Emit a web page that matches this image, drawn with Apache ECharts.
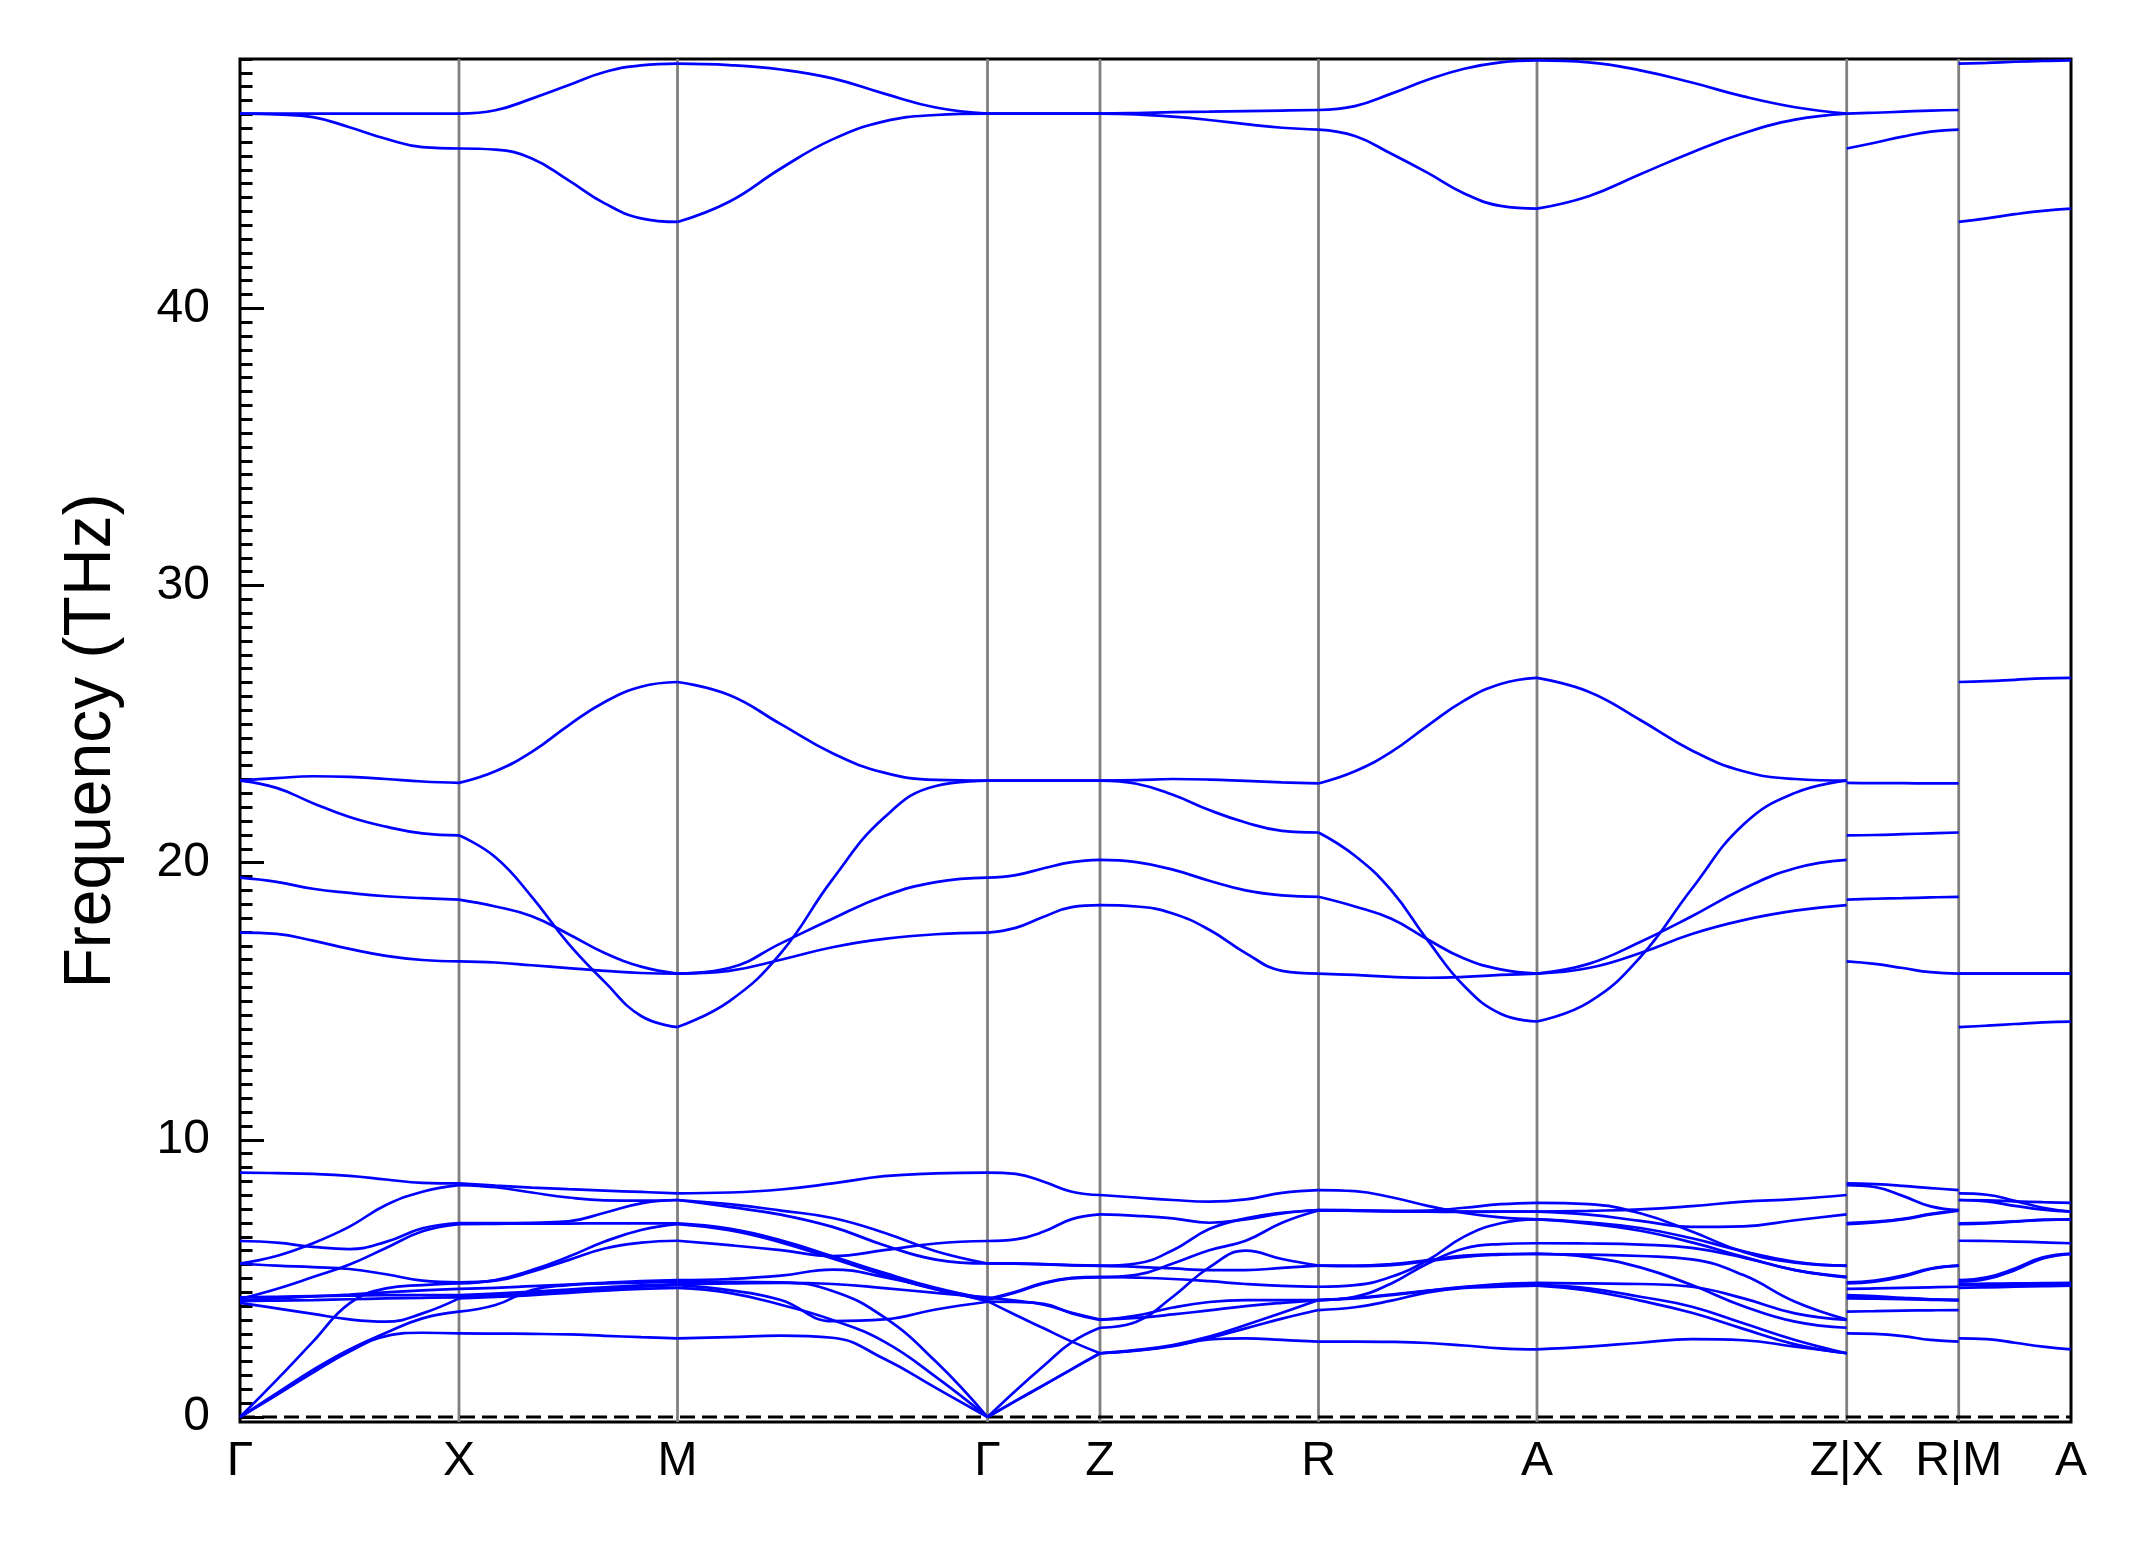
<!DOCTYPE html>
<html><head><meta charset="utf-8">
<script src="https://cdn.jsdelivr.net/npm/echarts@6/dist/echarts.min.js"></script>
<style>html,body{margin:0;padding:0;background:#fff}#c{width:2145px;height:1549px}</style>
</head><body><div id="c"></div>
<script>
// High-symmetry path
const kLabels = ['Γ','X','M','Γ','Z','R','A','Z|X','R|M','A'];
const kDist = [0, 219, 437.5, 747.5, 860, 1078.5, 1297, 1606.7, 1718.7, 1831];
const longFrac = [0, 1/6, 2/6, 3/6, 4/6, 5/6, 1];
const shortFrac = [0, 0.25, 0.5, 0.75, 1];
const yTicks = [0, 10, 20, 30, 40];

// Frequencies (THz) sampled along each path segment, one row per band
const bandsGX = [
 [0, 0.79, 1.60, 2.36, 2.92, 3.04, 3.02],
 [0, 0.85, 1.70, 2.44, 3.04, 3.56, 3.80],
 [0, 1.33, 2.72, 4.10, 4.64, 4.76, 4.82],
 [4.12, 3.92, 3.72, 3.52, 3.44, 3.74, 4.28],
 [4.18, 4.20, 4.22, 4.25, 4.28, 4.30, 4.32],
 [4.22, 4.28, 4.35, 4.42, 4.50, 4.57, 4.62],
 [4.26, 4.62, 5.05, 5.50, 6.10, 6.70, 6.96],
 [4.32, 4.34, 4.36, 4.38, 4.40, 4.40, 4.40],
 [5.54, 5.46, 5.41, 5.34, 5.15, 4.92, 4.86],
 [6.35, 6.29, 6.14, 6.06, 6.32, 6.81, 7.00],
 [5.54, 5.81, 6.27, 6.87, 7.65, 8.13, 8.37],
 [8.82, 8.80, 8.77, 8.70, 8.57, 8.45, 8.43],
 [22.96, 23.05, 23.12, 23.10, 23.02, 22.93, 22.88],
 [22.96, 22.70, 22.15, 21.65, 21.30, 21.06, 20.99],
 [19.46, 19.31, 19.06, 18.91, 18.79, 18.72, 18.67],
 [17.48, 17.43, 17.19, 16.89, 16.64, 16.49, 16.44],
 [47.03, 47.03, 47.03, 47.03, 47.03, 47.03, 47.03],
 [47.03, 47.00, 46.90, 46.54, 46.12, 45.82, 45.77]
];
const bandsXM = [
 [3.02, 3.01, 3.00, 2.98, 2.93, 2.88, 2.84],
 [3.80, 4.04, 4.58, 4.76, 4.82, 4.85, 4.88],
 [4.82, 4.94, 5.30, 5.78, 6.33, 6.75, 6.96],
 [4.28, 4.33, 4.40, 4.48, 4.56, 4.62, 4.66],
 [4.32, 4.38, 4.46, 4.54, 4.62, 4.70, 4.76],
 [4.62, 4.66, 4.72, 4.78, 4.84, 4.90, 4.94],
 [6.96, 6.97, 6.98, 6.98, 6.99, 6.99, 6.99],
 [4.40, 4.45, 4.52, 4.60, 4.68, 4.75, 4.80],
 [4.86, 4.92, 5.24, 5.66, 6.08, 6.29, 6.36],
 [7.00, 7.00, 7.01, 7.06, 7.37, 7.71, 7.83],
 [8.37, 8.29, 8.10, 7.92, 7.82, 7.81, 7.83],
 [8.43, 8.35, 8.28, 8.22, 8.17, 8.12, 8.07],
 [22.88, 23.30, 24.00, 24.95, 25.80, 26.35, 26.52],
 [20.99, 20.20, 18.77, 17.09, 15.70, 14.47, 14.07],
 [18.67, 18.42, 18.07, 17.43, 16.74, 16.25, 16.00],
 [16.44, 16.40, 16.30, 16.20, 16.10, 16.02, 16.00],
 [47.03, 47.15, 47.57, 48.05, 48.53, 48.77, 48.83],
 [45.77, 45.73, 45.41, 44.63, 43.79, 43.25, 43.12]
];
const bandsMG = [
 [2.84, 2.88, 2.94, 2.86, 2.10, 1.05, 0],
 [4.66, 4.48, 4.05, 3.50, 2.72, 1.45, 0],
 [4.76, 4.58, 4.22, 3.46, 3.52, 3.88, 4.16],
 [4.88, 4.88, 4.86, 4.55, 3.60, 2.00, 0],
 [4.94, 4.98, 5.10, 5.32, 5.05, 4.62, 4.18],
 [4.80, 4.82, 4.84, 4.80, 4.65, 4.48, 4.32],
 [6.36, 6.20, 6.02, 5.81, 6.02, 6.26, 6.35],
 [6.96, 6.74, 6.30, 5.72, 5.12, 4.60, 4.22],
 [6.99, 6.80, 6.38, 5.80, 5.20, 4.66, 4.26],
 [7.83, 7.58, 7.30, 6.86, 6.20, 5.68, 5.54],
 [7.83, 7.68, 7.45, 7.18, 6.65, 5.98, 5.54],
 [8.07, 8.10, 8.21, 8.43, 8.69, 8.79, 8.82],
 [26.52, 26.05, 25.00, 23.95, 23.25, 22.99, 22.96],
 [14.07, 15.00, 16.74, 19.40, 21.63, 22.77, 22.96],
 [16.00, 16.20, 17.09, 17.98, 18.80, 19.30, 19.46],
 [16.00, 16.10, 16.50, 16.95, 17.25, 17.42, 17.48],
 [48.83, 48.78, 48.62, 48.30, 47.75, 47.25, 47.03],
 [43.12, 43.85, 45.05, 46.10, 46.75, 46.98, 47.03]
];
const bandsGZ = [
 [0, 0.58, 1.15, 1.73, 2.30],
 [0, 0.58, 1.15, 1.73, 2.30],
 [4.16, 4.15, 4.08, 3.74, 3.50],
 [0, 0.95, 1.85, 2.70, 3.22],
 [4.18, 3.68, 3.20, 2.72, 2.30],
 [4.32, 4.20, 4.05, 3.76, 3.52],
 [6.35, 6.41, 6.69, 7.14, 7.31],
 [4.22, 4.49, 4.82, 5.00, 5.04],
 [4.26, 4.52, 4.84, 5.02, 5.06],
 [5.54, 5.54, 5.52, 5.48, 5.46],
 [5.54, 5.53, 5.51, 5.47, 5.45],
 [8.82, 8.77, 8.49, 8.13, 8.01],
 [22.96, 22.96, 22.96, 22.96, 22.96],
 [22.96, 22.96, 22.96, 22.96, 22.96],
 [19.46, 19.55, 19.80, 20.02, 20.10],
 [17.48, 17.65, 18.05, 18.40, 18.47],
 [47.03, 47.03, 47.03, 47.03, 47.03],
 [47.03, 47.03, 47.03, 47.03, 47.03]
];
const bandsZR = [
 [2.30, 2.39, 2.56, 2.80, 2.84, 2.78, 2.72],
 [2.30, 2.40, 2.57, 2.85, 3.20, 3.55, 3.86],
 [3.50, 3.66, 3.95, 4.15, 4.22, 4.22, 4.22],
 [3.22, 3.44, 4.34, 5.40, 6.00, 5.70, 5.46],
 [2.30, 2.42, 2.60, 2.90, 3.32, 3.76, 4.22],
 [3.52, 3.58, 3.70, 3.85, 4.00, 4.12, 4.22],
 [7.31, 7.26, 7.17, 7.01, 7.13, 7.35, 7.47],
 [5.04, 5.13, 5.54, 6.02, 6.36, 7.01, 7.45],
 [5.06, 5.03, 4.98, 4.90, 4.80, 4.73, 4.70],
 [5.46, 5.54, 6.02, 6.78, 7.17, 7.37, 7.47],
 [5.45, 5.42, 5.36, 5.30, 5.30, 5.38, 5.46],
 [8.01, 7.92, 7.83, 7.77, 7.85, 8.09, 8.19],
 [22.96, 22.98, 23.02, 23.00, 22.95, 22.90, 22.86],
 [22.96, 22.85, 22.45, 21.90, 21.45, 21.15, 21.09],
 [20.10, 20.02, 19.75, 19.35, 19.00, 18.82, 18.77],
 [18.47, 18.42, 18.17, 17.58, 16.74, 16.10, 16.00],
 [47.03, 47.05, 47.08, 47.10, 47.12, 47.14, 47.16],
 [47.03, 47.00, 46.92, 46.80, 46.65, 46.52, 46.45]
];
const bandsRA = [
 [8.19, 8.15, 7.93, 7.62, 7.36, 7.20, 7.13],
 [7.47, 7.46, 7.44, 7.45, 7.55, 7.68, 7.73],
 [7.47, 7.45, 7.43, 7.42, 7.41, 7.41, 7.41],
 [7.45, 7.44, 7.42, 7.41, 7.40, 7.41, 7.41],
 [4.70, 4.76, 5.06, 5.66, 6.51, 6.99, 7.13],
 [5.46, 5.46, 5.52, 5.66, 5.82, 5.88, 5.88],
 [5.46, 5.44, 5.48, 5.62, 5.78, 5.86, 5.90],
 [4.22, 4.34, 4.82, 5.54, 6.08, 6.24, 6.27],
 [4.22, 4.30, 4.42, 4.56, 4.68, 4.76, 4.78],
 [4.22, 4.28, 4.40, 4.55, 4.70, 4.80, 4.84],
 [3.86, 3.96, 4.20, 4.50, 4.66, 4.70, 4.74],
 [2.72, 2.72, 2.71, 2.67, 2.58, 2.48, 2.44],
 [22.86, 23.30, 24.00, 24.95, 25.85, 26.45, 26.67],
 [21.09, 20.25, 19.00, 17.20, 15.55, 14.55, 14.27],
 [18.77, 18.42, 17.98, 17.23, 16.54, 16.15, 16.00],
 [16.00, 15.95, 15.88, 15.85, 15.88, 15.95, 16.00],
 [47.16, 47.30, 47.75, 48.25, 48.65, 48.88, 48.95],
 [46.45, 46.22, 45.58, 44.89, 44.15, 43.70, 43.60]
];
const bandsAZ = [
 [7.73, 7.68, 7.35, 6.69, 5.96, 5.57, 5.46],
 [7.41, 7.44, 7.49, 7.61, 7.77, 7.86, 8.01],
 [7.41, 7.30, 7.08, 6.86, 6.88, 7.10, 7.31],
 [7.13, 7.02, 6.82, 6.45, 5.98, 5.60, 5.45],
 [7.13, 6.98, 6.72, 6.30, 5.78, 5.30, 5.04],
 [6.27, 6.26, 6.22, 6.10, 5.75, 5.30, 5.06],
 [5.88, 5.86, 5.81, 5.69, 5.12, 4.16, 3.52],
 [5.90, 5.77, 5.40, 4.76, 4.00, 3.44, 3.22],
 [4.84, 4.82, 4.80, 4.70, 4.28, 3.74, 3.50],
 [4.78, 4.64, 4.34, 3.98, 3.38, 2.78, 2.30],
 [4.74, 4.56, 4.20, 3.76, 3.18, 2.62, 2.30],
 [2.44, 2.54, 2.68, 2.81, 2.77, 2.54, 2.30],
 [26.67, 26.17, 25.15, 24.05, 23.30, 23.02, 22.96],
 [14.27, 14.96, 16.59, 19.06, 21.38, 22.52, 22.96],
 [16.00, 16.35, 17.14, 18.07, 19.06, 19.80, 20.10],
 [16.00, 16.20, 16.74, 17.43, 17.93, 18.27, 18.47],
 [48.95, 48.88, 48.59, 48.15, 47.65, 47.26, 47.03],
 [43.60, 44.05, 44.84, 45.63, 46.32, 46.81, 47.03]
];
const bandsXR = [
 [8.43, 8.40, 8.34, 8.26, 8.19],
 [8.37, 8.30, 7.98, 7.60, 7.47],
 [7.00, 7.05, 7.15, 7.33, 7.47],
 [6.96, 7.02, 7.13, 7.31, 7.45],
 [4.86, 4.92, 5.10, 5.36, 5.46],
 [4.82, 4.88, 5.06, 5.34, 5.46],
 [4.62, 4.64, 4.66, 4.68, 4.70],
 [4.40, 4.36, 4.30, 4.25, 4.22],
 [4.32, 4.30, 4.27, 4.24, 4.22],
 [4.28, 4.27, 4.25, 4.23, 4.22],
 [3.80, 3.82, 3.84, 3.85, 3.86],
 [3.02, 3.00, 2.92, 2.78, 2.72],
 [22.88, 22.87, 22.87, 22.86, 22.86],
 [20.99, 21.00, 21.03, 21.06, 21.09],
 [18.67, 18.70, 18.72, 18.75, 18.77],
 [16.44, 16.35, 16.20, 16.05, 16.00],
 [47.03, 47.06, 47.10, 47.14, 47.16],
 [45.77, 45.98, 46.20, 46.38, 46.45]
];
const bandsMA = [
 [2.84, 2.81, 2.68, 2.54, 2.44],
 [4.66, 4.68, 4.70, 4.72, 4.74],
 [4.76, 4.77, 4.77, 4.78, 4.78],
 [4.80, 4.81, 4.82, 4.83, 4.84],
 [4.88, 4.98, 5.30, 5.72, 5.88],
 [4.94, 5.04, 5.36, 5.76, 5.90],
 [6.36, 6.35, 6.33, 6.30, 6.27],
 [6.96, 6.99, 7.05, 7.11, 7.13],
 [6.99, 7.01, 7.06, 7.11, 7.13],
 [7.83, 7.78, 7.62, 7.48, 7.41],
 [7.83, 7.82, 7.78, 7.75, 7.73],
 [8.07, 8.02, 7.80, 7.55, 7.41],
 [26.52, 26.55, 26.60, 26.65, 26.67],
 [14.07, 14.12, 14.18, 14.24, 14.27],
 [16.00, 16.00, 16.00, 16.00, 16.00],
 [16.00, 16.00, 16.00, 16.00, 16.00],
 [48.83, 48.86, 48.90, 48.93, 48.95],
 [43.12, 43.25, 43.40, 43.52, 43.60]
];

// segment -> (start k-point index, end k-point index, bands)
const segments = [
 [0, 1, bandsGX], [1, 2, bandsXM], [2, 3, bandsMG], [3, 4, bandsGZ],
 [4, 5, bandsZR], [5, 6, bandsRA], [6, 7, bandsAZ], [7, 8, bandsXR], [8, 9, bandsMA]
];

const Y_MIN = -0.18, Y_MAX = 49;
const FONT = '"Liberation Sans", Arial, Helvetica, sans-serif';
const series = [];

// vertical high-symmetry lines
for (let i = 1; i < kDist.length - 1; i++) {
  series.push({
    type: 'line', xAxisIndex: 0, yAxisIndex: 0, silent: true, symbol: 'none', z: 1,
    data: [[kDist[i], Y_MIN], [kDist[i], Y_MAX]],
    lineStyle: { color: '#808080', width: 2.8 }
  });
}
// zero line
series.push({
  type: 'line', xAxisIndex: 0, yAxisIndex: 0, silent: true, symbol: 'none', z: 2,
  data: [[kDist[0], 0], [kDist[kDist.length - 1], 0]],
  lineStyle: { color: '#000', width: 3, type: [15, 7] }
});
// bands
segments.forEach(([a, b, bands]) => {
  const x0 = kDist[a], x1 = kDist[b];
  bands.forEach(vals => {
    const fr = vals.length === longFrac.length ? longFrac : shortFrac;
    series.push({
      type: 'line', xAxisIndex: 0, yAxisIndex: 0, silent: true, symbol: 'none', z: 3,
      smooth: 0.45,
      data: vals.map((v, i) => [x0 + fr[i] * (x1 - x0), v]),
      lineStyle: { color: '#0000ff', width: 2.7 }
    });
  });
});

const chart = echarts.init(document.getElementById('c'), null, { renderer: 'canvas' });
chart.setOption({
  animation: false,
  backgroundColor: '#fff',
  grid: [
    { left: 240, right: 74, top: 59, bottom: 127, show: true, borderColor: '#000', borderWidth: 3, backgroundColor: 'transparent' },
    { left: 240, right: 74, top: 59, bottom: 132 }
  ],
  xAxis: [
    { gridIndex: 0, type: 'value', min: 0, max: kDist[kDist.length - 1],
      axisLine: { show: false }, axisTick: { show: false }, splitLine: { show: false },
      axisLabel: { customValues: kDist, margin: 16, fontSize: 48, color: '#000', fontFamily: FONT,
        formatter: v => { const i = kDist.indexOf(v); return i >= 0 ? kLabels[i] : ''; } } },
    { gridIndex: 1, type: 'value', min: 0, max: kDist[kDist.length - 1], show: false }
  ],
  yAxis: [
    { gridIndex: 0, type: 'value', min: Y_MIN, max: Y_MAX, show: false },
    { gridIndex: 1, type: 'value', min: 0, max: Y_MAX, interval: 10, position: 'left',
      axisLine: { show: false }, splitLine: { show: false },
      axisTick: { show: true, inside: true, length: 24, lineStyle: { color: '#000', width: 3 } },
      axisLabel: { show: true, margin: 30, fontSize: 48, color: '#000', fontFamily: FONT, showMaxLabel: false,
        formatter: v => (yTicks.indexOf(v) >= 0 ? String(v) : '') } },
    { gridIndex: 1, type: 'value', min: 0, max: Y_MAX, interval: 0.5, position: 'left',
      axisLine: { show: false }, splitLine: { show: false }, axisLabel: { show: false },
      axisTick: { show: true, inside: true, length: 12.5, lineStyle: { color: '#000', width: 3 } } }
  ],
  graphic: [{
    type: 'text', x: 92, y: 741, rotation: Math.PI / 2,
    style: { text: 'Frequency (THz)', fontSize: 66, fontFamily: FONT, fill: '#000', align: 'center', verticalAlign: 'middle' }
  }],
  series
});
</script></body></html>
